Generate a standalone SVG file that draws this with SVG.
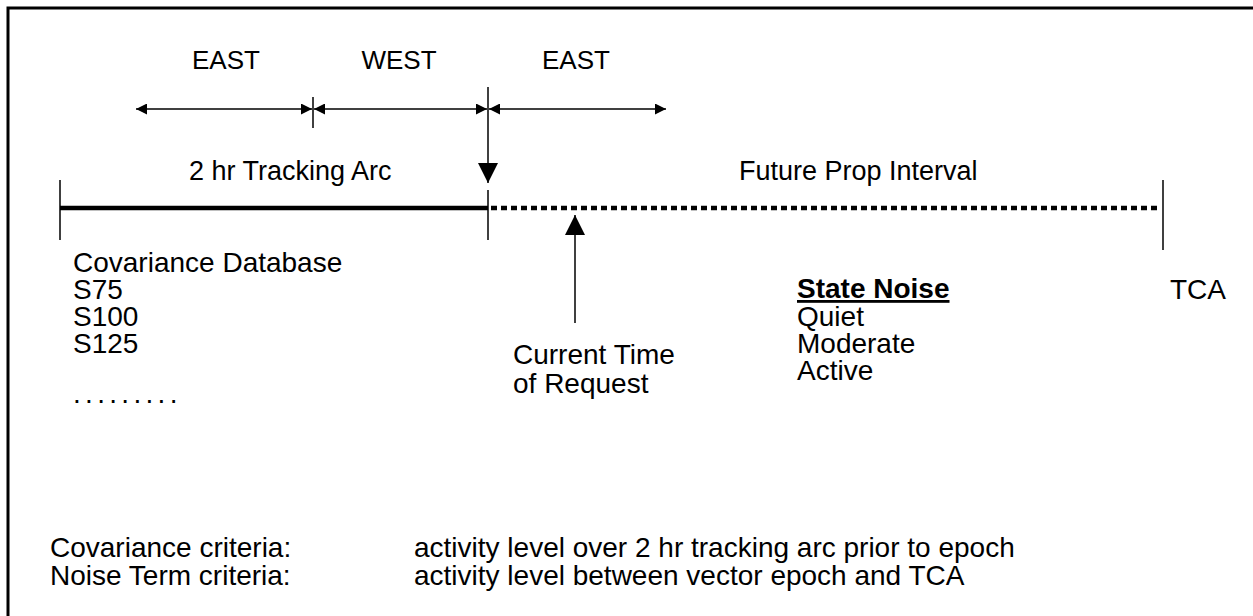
<svg xmlns="http://www.w3.org/2000/svg" width="1253" height="616" viewBox="0 0 1253 616">
<defs>
<style>
text{font-family:"Liberation Sans",Arial,sans-serif;fill:#000}
.t24{font-size:26px}
.t27{font-size:27px}
.t28{font-size:28px}
.ln{stroke:#000;fill:none}
</style>
<marker id="ah" viewBox="0 0 10 10" refX="10" refY="5" markerWidth="14" markerHeight="11" markerUnits="userSpaceOnUse" orient="auto-start-reverse">
<path d="M0,0 L10,5 L0,10 z" fill="#000"/>
</marker>
<marker id="big" viewBox="0 0 10 10" refX="10" refY="5" markerWidth="23" markerHeight="20" markerUnits="userSpaceOnUse" orient="auto">
<path d="M0,0 L10,5 L0,10 z" fill="#000"/>
</marker>
</defs>
<rect x="8" y="8" width="1300" height="700" fill="none" stroke="#000" stroke-width="3"/>
<g id="connectors">
<line class="ln" x1="136" y1="109" x2="312" y2="109" stroke-width="1.5" marker-start="url(#ah)" marker-end="url(#ah)"/>
<line class="ln" x1="314" y1="109" x2="487" y2="109" stroke-width="1.5" marker-start="url(#ah)" marker-end="url(#ah)"/>
<line class="ln" x1="489" y1="109" x2="666" y2="109" stroke-width="1.5" marker-start="url(#ah)" marker-end="url(#ah)"/>
<line class="ln" x1="313" y1="97" x2="313" y2="128" stroke-width="1.5"/>
<line class="ln" x1="488" y1="87" x2="488" y2="183" stroke-width="1.5" marker-end="url(#big)"/>
<line class="ln" x1="60" y1="208" x2="488" y2="208" stroke-width="4.5"/>
<line class="ln" x1="491" y1="208" x2="1160" y2="208" stroke-width="4.5" stroke-dasharray="6 4"/>
<line class="ln" x1="60" y1="180" x2="60" y2="240" stroke-width="1.5"/>
<line class="ln" x1="488" y1="190" x2="488" y2="240" stroke-width="1.5"/>
<line class="ln" x1="1163" y1="180" x2="1163" y2="250" stroke-width="1.5"/>
<line class="ln" x1="575" y1="323" x2="575" y2="215" stroke-width="1.5" marker-end="url(#big)"/>
</g>
<g id="top-labels">
<text class="t24" x="226" y="69" text-anchor="middle">EAST</text>
<text class="t24" x="399" y="69" text-anchor="middle">WEST</text>
<text class="t24" x="576" y="69" text-anchor="middle">EAST</text>
</g>
<g id="tracking-arc"><text class="t27" x="189" y="180">2 hr Tracking Arc</text></g>
<g id="future-prop"><text class="t27" x="739" y="180">Future Prop Interval</text></g>
<g id="covariance-db">
<text class="t28" x="73" y="272">Covariance Database</text>
<text class="t28" x="73" y="299">S75</text>
<text class="t28" x="73" y="326">S100</text>
<text class="t28" x="73" y="353">S125</text>
<text class="t28" x="73" y="403" letter-spacing="4.3">.........</text>
</g>
<g id="current-time">
<text class="t28" x="513" y="364">Current Time</text>
<text class="t28" x="513" y="393">of Request</text>
</g>
<g id="state-noise">
<text class="t28" x="797" y="298" font-weight="bold" text-decoration="underline">State Noise</text>
<text class="t28" x="797" y="326">Quiet</text>
<text class="t28" x="797" y="353">Moderate</text>
<text class="t28" x="797" y="380">Active</text>
</g>
<g id="tca"><text class="t28" x="1170" y="299">TCA</text></g>
<g id="criteria">
<text class="t28" x="50" y="557">Covariance criteria:</text>
<text class="t28" x="50" y="585">Noise Term criteria:</text>
<text class="t28" x="414" y="557">activity level over 2 hr tracking arc prior to epoch</text>
<text class="t28" x="414" y="585">activity level between vector epoch and TCA</text>
</g>
</svg>
